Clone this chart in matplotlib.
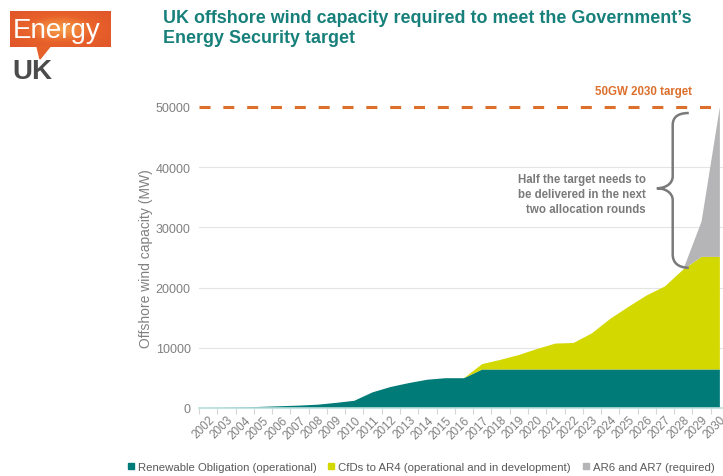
import matplotlib
matplotlib.use("Agg")
import matplotlib.pyplot as plt
import numpy as np
from matplotlib.path import Path
from matplotlib.patches import PathPatch, Polygon
from matplotlib.lines import Line2D
from matplotlib.colors import LinearSegmentedColormap

# years on the category axis
years = [str(y) for y in range(2002, 2031)]

# Renewable Obligation (operational), MW
ro = [0, 50, 100, 200, 300, 400, 550, 850, 1200, 2600, 3500, 4150, 4700, 4950,
      4950, 6400, 6400, 6400, 6400, 6400, 6400, 6400, 6400, 6400, 6400, 6400,
      6400, 6400, 6400]
# CfDs to AR4 (operational and in development), MW on top of RO
cfd = [0, 0, 0, 0, 0, 0, 0, 0, 0, 0, 0, 0, 0, 0,
       0, 900, 1600, 2400, 3400, 4300, 4400, 6000, 8400, 10400, 12300, 13800,
       16600, 18700, 18700]
# AR6 and AR7 (required), MW on top of the rest
ar67 = [0] * 27 + [5900, 24900]

target = 50000
yticks = [0, 10000, 20000, 30000, 40000, 50000]

teal = "#007b78"
lime = "#d3d800"
grey = "#b5b5b7"
orange = "#dc6f2c"
txtgrey = "#808080"

plt.rcParams["font.family"] = ["Liberation Sans", "DejaVu Sans"]

fig = plt.figure(figsize=(7.23, 4.77), dpi=100)
fig.patch.set_facecolor("white")

# ---- logo ----
lax = fig.add_axes([10 / 723, 1 - 48 / 477, 100 / 723, 36 / 477])
gx, gy = np.meshgrid(np.linspace(-1, 1, 200), np.linspace(-1, 1, 80))
rad = np.sqrt(gx ** 2 + (gy * 0.9) ** 2)
cmap = LinearSegmentedColormap.from_list("og", ["#f6a04a", "#e8622a", "#e0552a"])
lax.imshow(rad, cmap=cmap, aspect="auto", extent=[0, 1, 0, 1])
lax.axis("off")
fig.patches.append(Polygon([(37 / 723, 1 - 47.5 / 477), (50 / 723, 1 - 47.5 / 477),
                            (40 / 723, 1 - 60 / 477)], closed=True,
                           transform=fig.transFigure, color="#e6602a", zorder=5))
fig.text(13 / 723, 1 - 38 / 477, "Energy", color="white", fontsize=20,
         va="baseline", ha="left", zorder=6)
fig.text(12 / 723, 1 - 79 / 477, "UK", color="#4b4b4b", fontsize=20,
         fontweight="bold", va="baseline", ha="left")

# ---- title ----
fig.text(163 / 723, 1 - 10 / 477,
         "UK offshore wind capacity required to meet the Government\u2019s\nEnergy Security target",
         color="#17807b", fontsize=12.9, fontweight="bold",
         va="top", ha="left", linespacing=1.25)

# ---- chart ----
ax = fig.add_axes([199 / 723, 1 - 409 / 477, 530 / 723, 301 / 477])
x = np.arange(len(years))
ax.stackplot(x, ro, cfd, ar67, colors=[teal, lime, grey], linewidth=0,
             zorder=2)
ax.set_xlim(-0.5, len(years) - 0.5)
ax.set_ylim(0, target)

ax.set_yticks(yticks)
ax.set_yticklabels([str(v) for v in yticks])
ax.tick_params(axis="y", length=0, pad=6, labelsize=9, labelcolor=txtgrey)
for v in yticks[1:-1]:
    ax.axhline(v, color="#e4e4e4", lw=0.8, zorder=1)

ax.set_xticks(np.arange(-0.5, len(years), 1.0))
ax.set_xticklabels([])
ax.tick_params(axis="x", which="major", length=4, color="#d6d6d6", width=0.8)
ax.set_xticks(x, minor=True)
ax.set_xticklabels(years, minor=True, rotation=45, ha="right", va="top",
                   rotation_mode="anchor")
ax.tick_params(axis="x", which="minor", length=0, pad=4, labelsize=8.5,
               labelcolor=txtgrey)

for s in ["top", "right", "left"]:
    ax.spines[s].set_visible(False)
ax.spines["bottom"].set_color("#b9dede")
ax.spines["bottom"].set_linewidth(1.2)
ax.spines["bottom"].set_zorder(3)

ax.set_ylabel("Offshore wind capacity (MW)", fontsize=10, color=txtgrey,
              labelpad=2)

# target line
ax.axhline(target, color=orange, lw=2.2, ls=(0, (3.6, 4.2)), clip_on=False,
           zorder=4)
ax.text(26.45, 52700, "50GW 2030 target", color=orange, fontsize=8.3,
        fontweight="bold", ha="right", va="center", clip_on=False)

# brace and note
verts = [(26.3, 49000),
         (25.7, 49000), (25.42, 48300), (25.42, 47000),
         (25.42, 38500),
         (25.42, 37200), (25.0, 36500), (24.55, 36500),
         (25.0, 36500), (25.42, 35800), (25.42, 34500),
         (25.42, 25500),
         (25.42, 24200), (25.7, 23300), (26.3, 23300)]
codes = [Path.MOVETO,
         Path.CURVE4, Path.CURVE4, Path.CURVE4,
         Path.LINETO,
         Path.CURVE4, Path.CURVE4, Path.CURVE4,
         Path.CURVE4, Path.CURVE4, Path.CURVE4,
         Path.LINETO,
         Path.CURVE4, Path.CURVE4, Path.CURVE4]
ax.add_patch(PathPatch(Path(verts, codes), fill=False, edgecolor="#7a7a7a",
                       lw=1.8, zorder=5, clip_on=False))
ax.text(23.95, 35500,
        "Half the target needs to\nbe delivered in the next\ntwo allocation rounds",
        color="#7a7a7a", fontsize=8.3, fontweight="bold",
        ha="right", va="center", multialignment="right", linespacing=1.35)

# legend
handles = [Line2D([], [], marker="s", ls="", color=c, markersize=5)
           for c in [teal, lime, grey]]
labels = ["Renewable Obligation (operational)",
          "CfDs to AR4 (operational and in development)",
          "AR6 and AR7 (required)"]
leg = fig.legend(handles, labels, loc="center", ncol=3,
                 bbox_to_anchor=(421 / 723, 1 - 468 / 477), frameon=False,
                 fontsize=8.2, handlelength=0.6, handletextpad=0.3,
                 columnspacing=1.0, borderpad=0.2)
for t in leg.get_texts():
    t.set_color("#595959")

fig.savefig("out.png", dpi=100, facecolor="white")
